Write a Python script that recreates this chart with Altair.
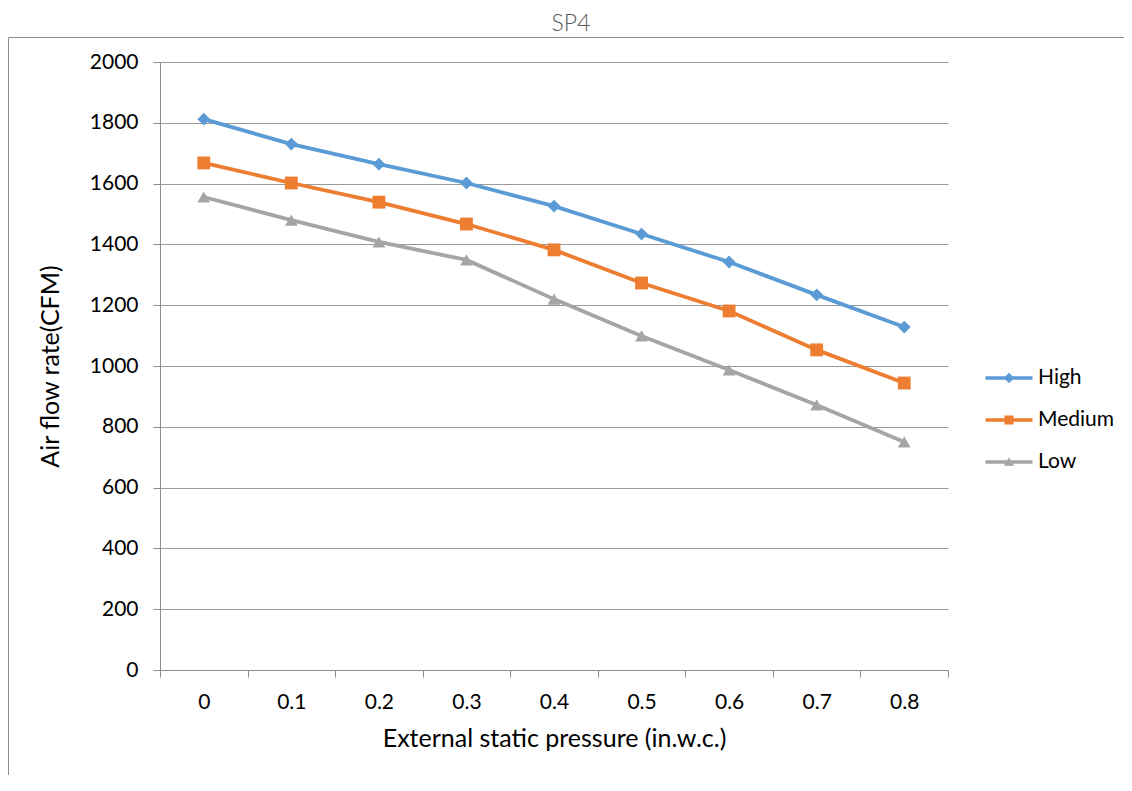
import altair as alt
import pandas as pd

pressures = ["0", "0.1", "0.2", "0.3", "0.4", "0.5", "0.6", "0.7", "0.8"]
high = [1812, 1730, 1664, 1602, 1526, 1434, 1342, 1234, 1128]
medium = [1668, 1602, 1539, 1467, 1382, 1273, 1181, 1053, 944]
low = [1556, 1480, 1408, 1349, 1220, 1099, 987, 872, 750]
series_names = ["High", "Medium", "Low"]
series_colors = ["#5B9BD5", "#ED7D31", "#A5A5A5"]
y_ticks = [0, 200, 400, 600, 800, 1000, 1200, 1400, 1600, 1800, 2000]

rows = []
for name, vals in zip(series_names, [high, medium, low]):
    for p, v in zip(pressures, vals):
        rows.append({"p": p, "cfm": v, "series": name})
df = pd.DataFrame(rows)

FONT = "Lato"
W, H = 788, 608

# legend symbols: line with marker (custom paths, size 400 -> 10px per unit)
line_part = "M-2.35,-0.17H2.35V0.17H-2.35Z"
leg_paths = [
    line_part + " M0,-0.52L0.52,0L0,0.52L-0.52,0Z",
    line_part + " M-0.45,-0.45H0.45V0.45H-0.45Z",
    line_part + " M0,-0.45L0.52,0.38L-0.52,0.38Z",
]

x_enc = alt.X(
    "p:N",
    sort=pressures,
    bandPosition=0.5,
    scale=alt.Scale(type="band", paddingInner=0, paddingOuter=0),
    axis=alt.Axis(
        title="External static pressure (in.w.c.)",
        labelAngle=0,
        tickBand="extent",
        grid=False,
        tickSize=7,
        labelPadding=14,
        titlePadding=14,
        domainColor="#8c8c8c",
        tickColor="#8c8c8c",
    ),
)
y_enc = alt.Y(
    "cfm:Q",
    scale=alt.Scale(domain=[0, 2000], nice=False),
    axis=alt.Axis(
        title="Air flow rate(CFM)",
        values=y_ticks,
        format="d",
        tickSize=7,
        labelPadding=15,
        titlePadding=26,
        gridColor="#9a9a9a",
        domainColor="#8c8c8c",
        tickColor="#8c8c8c",
    ),
)

color_scale = alt.Scale(domain=series_names, range=series_colors)

base = alt.Chart(df)

lines = base.mark_line(strokeWidth=3.8).encode(
    x=x_enc,
    y=y_enc,
    color=alt.Color("series:N", scale=color_scale, legend=None),
    detail="series:N",
)

points = base.mark_point(filled=True, opacity=1, size=165).encode(
    x=x_enc,
    y=y_enc,
    color=alt.Color("series:N", scale=color_scale, legend=None),
    shape=alt.Shape(
        "series:N",
        scale=alt.Scale(domain=series_names, range=["diamond", "square", "triangle-up"]),
        legend=None,
    ),
)

legend_props = dict(
    title=None,
    orient="none",
    legendX=838,
    legendY=305,
    labelFontSize=21,
    labelFont=FONT,
    labelColor="#000000",
    labelOffset=18,
    rowPadding=21,
    padding=0,
    symbolSize=400,
    symbolOpacity=1,
)

legend_layer = (
    base.transform_filter("datum.series == 'none'")
    .mark_point(filled=True, opacity=1, size=400)
    .encode(
        x=x_enc,
        y=y_enc,
        color=alt.Color("series:N", scale=color_scale, legend=alt.Legend(**legend_props)),
        shape=alt.Shape(
            "series:N",
            scale=alt.Scale(domain=series_names, range=leg_paths),
            legend=alt.Legend(**legend_props),
        ),
    )
)

border = alt.Chart(pd.DataFrame({"b": [0]})).mark_rect(
    fill=None, stroke="#8c8c8c", strokeWidth=1
).encode(
    x=alt.value(-151.5),
    x2=alt.value(W + 400),
    y=alt.value(-24.5),
    y2=alt.value(H + 400),
)

chart = (
    alt.layer(border, lines, points, legend_layer)
    .resolve_scale(color="independent", shape="independent")
    .properties(
        width=W,
        height=H,
        autosize=alt.AutoSizeParams(type="none"),
        padding={"left": 152, "top": 54, "right": 176, "bottom": 105},
        title=alt.TitleParams(
            "SP4",
            fontSize=23,
            font=FONT,
            fontWeight=300,
            color="#595959",
            anchor="middle",
            frame="group",
            dx=17,
            offset=-17,
            baseline="alphabetic",
        ),
    )
    .configure_view(stroke=None)
    .configure_axis(
        labelFont=FONT,
        labelFontSize=21,
        labelColor="#000000",
        titleFont=FONT,
        titleFontSize=25,
        titleFontWeight="normal",
        titleColor="#000000",
    )
)

chart.save("out.html", embed_options={"renderer": "svg", "actions": False})
